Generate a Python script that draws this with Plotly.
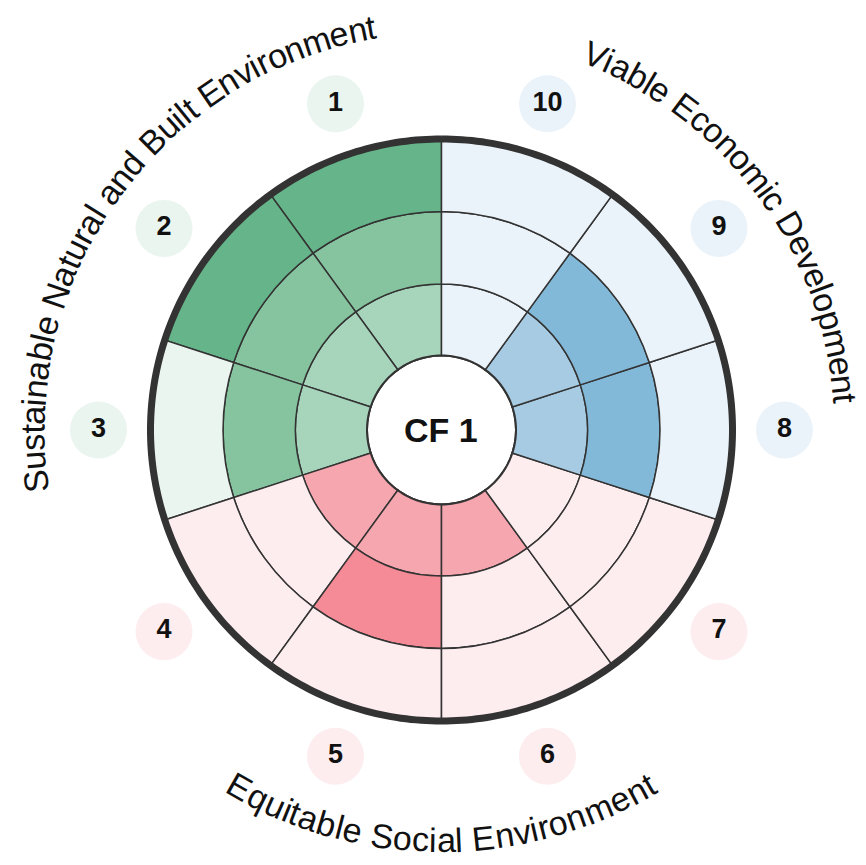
import math
import numpy as np
import plotly.graph_objects as go

# sectors (10 indicators), score = how many of the 3 rings are filled
sectors = ["1", "2", "3", "4", "5", "6", "7", "8", "9", "10"]
groups = ["green", "green", "green", "pink", "pink", "pink", "pink", "blue", "blue", "blue"]
scores = [3, 3, 2, 1, 2, 1, 0, 2, 2, 0]
rings = [1, 2, 3]
center_label = "CF 1"
group_titles = {
    "green": "Sustainable Natural and Built Environment",
    "blue": "Viable Economic Development",
    "pink": "Equitable Social Environment",
}

# ring colours per group: filled inner / middle / outer, and unfilled pale
fill_colors = {
    "green": ["#a7d5bb", "#85c49f", "#66b58a"],
    "pink": ["#f5a6ae", "#f48b96", "#ee6f7d"],
    "blue": ["#a7cbe2", "#83b9d8", "#5fa3cb"],
}
pale_colors = {"green": "#eaf5ef", "pink": "#fdedef", "blue": "#ebf3fa"}

W, H = 866, 865
CX, CY = 441.5, 430      # centre of the wheel, px from top-left
R_OUT = 291              # radius of the outer ring edge, px
R_HOLE = 73.5            # centre hole radius px
R_DOM = 385              # polar domain radius (room for the number bubbles)

def px_to_r(px):
    return (px - R_HOLE) / (R_OUT - R_HOLE) * len(rings)

width_deg = 360 / len(sectors)
thetas = [width_deg * i + width_deg / 2 for i in range(len(sectors))]
circle_theta = np.linspace(0, 360, 361)

fig = go.Figure()

# one trace per ring
for k in rings:
    colors = [fill_colors[g][k - 1] if s >= k else pale_colors[g] for g, s in zip(groups, scores)]
    fig.add_trace(go.Barpolar(
        theta=thetas, r=[1] * len(sectors), base=[k - 1] * len(sectors),
        width=[width_deg] * len(sectors),
        marker=dict(color=colors, line=dict(color="#333333", width=1.5)),
        hoverinfo="skip", showlegend=False))

# outer rim and centre circle outline
fig.add_trace(go.Scatterpolar(
    r=[len(rings)] * len(circle_theta), theta=circle_theta, mode="lines",
    line=dict(color="#333333", width=7), hoverinfo="skip", showlegend=False))
fig.add_trace(go.Scatterpolar(
    r=[0] * len(circle_theta), theta=circle_theta, mode="lines",
    line=dict(color="#333333", width=4), cliponaxis=False,
    hoverinfo="skip", showlegend=False))

# numbered bubbles round the outside
fig.add_trace(go.Scatterpolar(
    r=[px_to_r(343)] * len(sectors), theta=thetas, mode="markers+text",
    text=sectors, textposition="middle center",
    textfont=dict(family="Liberation Sans, Arial", size=27, color="#111111", weight="bold"),
    marker=dict(size=57, color=[pale_colors[g] for g in groups], line=dict(width=0)),
    cliponaxis=False, hoverinfo="skip", showlegend=False))

# approx Arial advance widths (per 1000 em) for laying text on arcs
CHAR_W = {" ": 278, "A": 667, "B": 667, "C": 722, "D": 722, "E": 667, "N": 722, "S": 667,
          "V": 667, "a": 556, "b": 556, "c": 500, "d": 556, "e": 556, "i": 222, "l": 222,
          "m": 833, "n": 556, "o": 556, "p": 556, "q": 556, "r": 333, "s": 500, "t": 278,
          "u": 556, "v": 500}

annotations = []

def arc_text(text, mid_deg, r_px, size, outward=True):
    widths = [CHAR_W.get(c, 556) / 1000 * size for c in text]
    span = sum(widths) / r_px
    mid = math.radians(mid_deg)
    start = mid + span / 2 if outward else mid - span / 2
    acc = 0
    for c, w in zip(text, widths):
        off = (acc + w / 2) / r_px
        acc += w
        if c == " ":
            continue
        a = start - off if outward else start + off
        px = CX + r_px * math.cos(a)
        py = CY - r_px * math.sin(a)
        deg = math.degrees(a)
        tangle = 90 - deg if outward else -(deg + 90)
        annotations.append(dict(
            x=px / W, y=1 - py / H, xref="paper", yref="paper", text=c,
            showarrow=False, textangle=tangle, xanchor="center", yanchor="middle",
            font=dict(family="Liberation Sans, Arial", size=size, color="#111111")))

arc_text(group_titles["green"], 144, 409, 34, outward=True)
arc_text(group_titles["blue"], 36.5, 405, 34, outward=True)
arc_text(group_titles["pink"], 270, 410, 34, outward=False)

annotations.append(dict(
    x=CX / W, y=1 - CY / H, xref="paper", yref="paper", text="<b>%s</b>" % center_label,
    showarrow=False, xanchor="center", yanchor="middle",
    font=dict(family="Liberation Sans, Arial", size=34, color="#111111")))

fig.update_layout(
    width=W, height=H,
    margin=dict(l=0, r=0, t=0, b=0),
    paper_bgcolor="white",
    showlegend=False,
    annotations=annotations,
    polar=dict(
        domain=dict(x=[(CX - R_DOM) / W, (CX + R_DOM) / W],
                    y=[(H - CY - R_DOM) / H, (H - CY + R_DOM) / H]),
        hole=R_HOLE / R_DOM,
        bgcolor="rgba(0,0,0,0)",
        radialaxis=dict(range=[0, px_to_r(R_DOM)], showticklabels=False, ticks="",
                        showgrid=False, showline=False),
        angularaxis=dict(rotation=90, direction="counterclockwise", showticklabels=False,
                         ticks="", showgrid=False, showline=False),
    ),
)

fig.write_html("out.html", config={"displayModeBar": False},
               post_script="document.body.style.margin='0';")
